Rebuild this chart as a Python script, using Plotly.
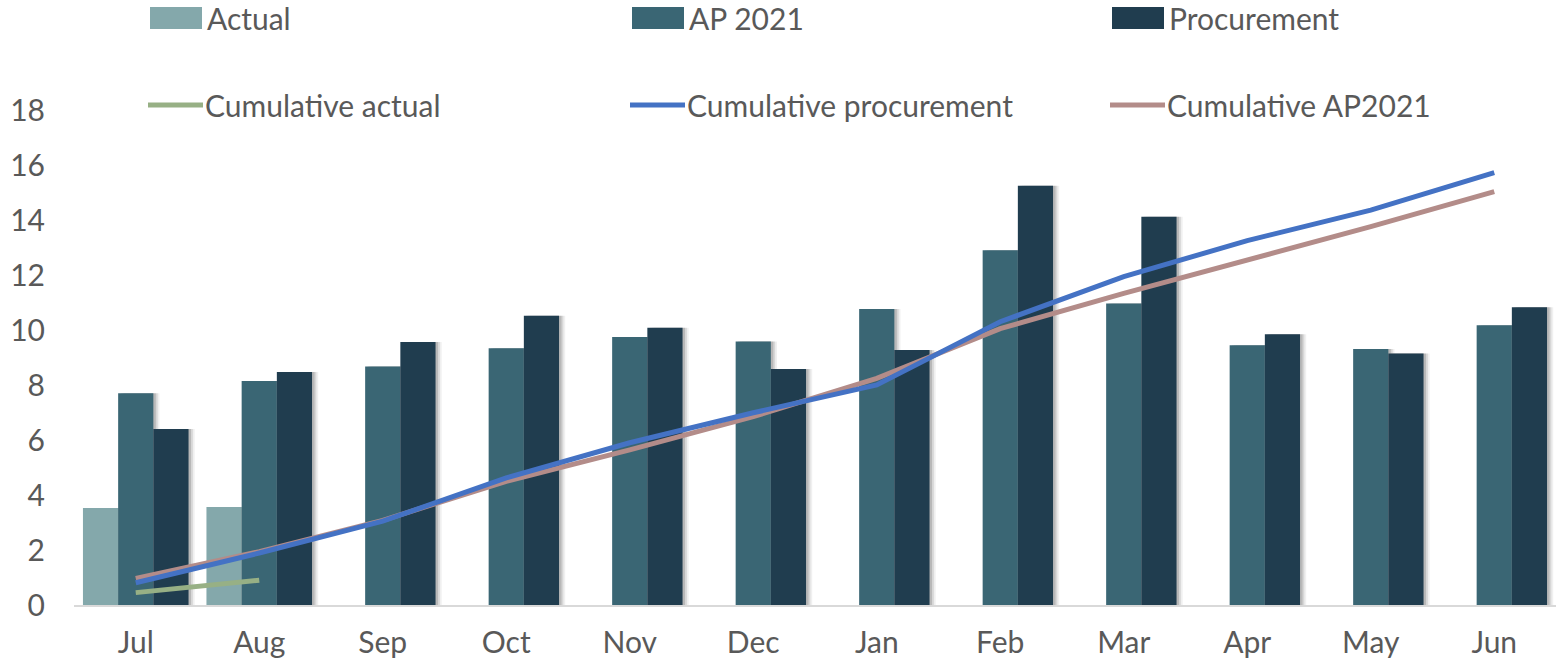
import plotly.graph_objects as go

months = ['Jul', 'Aug', 'Sep', 'Oct', 'Nov', 'Dec', 'Jan', 'Feb', 'Mar', 'Apr', 'May', 'Jun']
actual = [3.53, 3.56]
ap_2021 = [7.7, 8.15, 8.67, 9.34, 9.75, 9.58, 10.76, 12.9, 10.96, 9.45, 9.31, 10.17]
procurement = [6.4, 8.47, 9.56, 10.52, 10.08, 8.58, 9.27, 15.25, 14.12, 9.85, 9.15, 10.83]
cum_actual = [0.45, 0.9]
cum_procurement = [0.81, 1.89, 3.05, 4.62, 5.9, 6.99, 8.0, 10.3, 11.94, 13.25, 14.36, 15.72]
cum_ap2021 = [0.97, 1.94, 3.08, 4.5, 5.64, 6.85, 8.24, 10.05, 11.33, 12.55, 13.76, 15.03]

# colours
c_actual = '#84A8AB'
c_ap = '#3A6674'
c_proc = '#203D4F'
c_cum_actual = '#97B085'
c_cum_proc = '#4472C4'
c_cum_ap = '#B38C89'
txt = '#595959'
font_name = 'Lato'
fsize = 30

# plot area in pixels (for the hand made legend)
L, R, T, B = 74, 0, 110, 54
W, H = 1556, 659
pw, ph = W - L - R, H - T - B


def px(x):
    return (x - L) / pw


def py(y):
    return (H - B - y) / ph


bw = 0.285
bars = [
    ('Actual', months[:len(actual)], actual, c_actual, -1.5 * bw),
    ('AP 2021', months, ap_2021, c_ap, -0.5 * bw),
    ('Procurement', months, procurement, c_proc, 0.5 * bw),
]

fig = go.Figure()

# soft shadows behind bars
for name, x, y, col, off in bars:
    for shift, op in [(0.05, 0.06), (0.035, 0.1), (0.02, 0.14)]:
        fig.add_trace(go.Bar(x=x, y=y, width=bw, offset=off + shift,
                             marker=dict(color='rgba(0,0,0,%s)' % op, line_width=0),
                             hoverinfo='skip', showlegend=False))

for name, x, y, col, off in bars:
    fig.add_trace(go.Bar(x=x, y=y, name=name, width=bw, offset=off,
                         marker=dict(color=col, line_width=0), showlegend=False))

lines = [
    ('Cumulative actual', months[:len(cum_actual)], cum_actual, c_cum_actual),
    ('Cumulative AP2021', months, cum_ap2021, c_cum_ap),
    ('Cumulative procurement', months, cum_procurement, c_cum_proc),
]
for name, x, y, col in lines:
    fig.add_trace(go.Scatter(x=x, y=y, name=name, mode='lines',
                             line=dict(color=col, width=5), showlegend=False))

# legend drawn by hand: two rows of three
legend_rows = [
    [('Actual', c_actual, 150), ('AP 2021', c_ap, 632), ('Procurement', c_proc, 1112)],
    [('Cumulative actual', c_cum_actual, 148), ('Cumulative procurement', c_cum_proc, 630),
     ('Cumulative AP2021', c_cum_ap, 1110)],
]
shapes = []
annots = []
for i, row in enumerate(legend_rows):
    yc = 18 if i == 0 else 105
    for name, col, x0 in row:
        if i == 0:
            shapes.append(dict(type='rect', xref='paper', yref='paper',
                               x0=px(x0), x1=px(x0 + 52), y0=py(yc + 11), y1=py(yc - 11),
                               fillcolor=col, line_width=0, layer='above'))
        else:
            shapes.append(dict(type='line', xref='paper', yref='paper',
                               x0=px(x0), x1=px(x0 + 55), y0=py(yc), y1=py(yc),
                               line=dict(color=col, width=5), layer='above'))
        annots.append(dict(text=name, xref='paper', yref='paper', x=px(x0 + 55), y=py(yc),
                           xanchor='left', yanchor='middle', showarrow=False,
                           font=dict(family=font_name, size=fsize, color=txt)))

fig.update_layout(
    width=W, height=H,
    margin=dict(l=L, r=R, t=T, b=B),
    barmode='overlay',
    plot_bgcolor='white', paper_bgcolor='white',
    font=dict(family=font_name, size=fsize, color=txt),
    shapes=shapes, annotations=annots,
)
fig.update_xaxes(type='category', categoryorder='array', categoryarray=months,
                 range=[-0.5, 11.5], showgrid=False, showline=True,
                 linecolor='#D9D9D9', linewidth=2, ticks='', ticklabelstandoff=10,
                 zeroline=False, automargin=False)
fig.update_yaxes(range=[0, 18], dtick=2, showgrid=False, showline=False, zeroline=False,
                 ticks='', ticklabelstandoff=28, automargin=False)

fig.write_html("out.html", post_script="document.body.style.margin='0';",
               config={'displayModeBar': False})
